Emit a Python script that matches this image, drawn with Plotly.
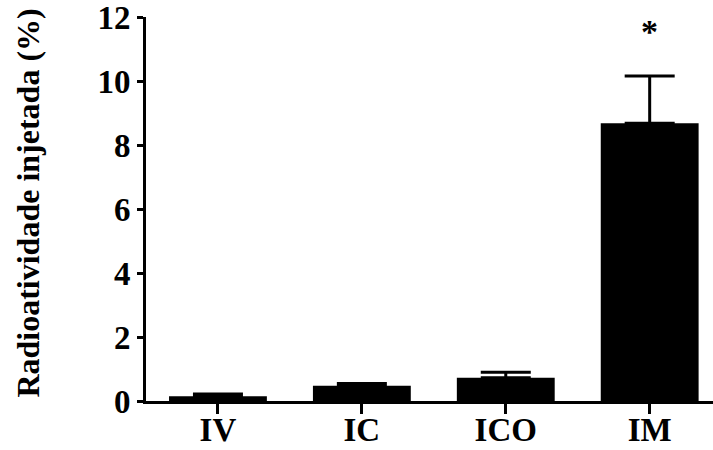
import plotly.graph_objects as go

categories = ["IV", "IC", "ICO", "IM"]
values = [0.15, 0.48, 0.73, 8.68]
errors = [0.07, 0.07, 0.17, 1.48]
y_ticks = [0, 2, 4, 6, 8, 10, 12]

FONT = "Liberation Serif"

fig = go.Figure()
fig.add_trace(go.Bar(
    x=list(range(len(categories))),
    y=values,
    width=0.68,
    marker=dict(color="black", line=dict(color="black", width=0)),
    error_y=dict(type="data", array=errors, arrayminus=[0]*len(errors), symmetric=False,
                 color="black", thickness=3, width=25),
))

fig.add_annotation(x=3, y=11.55, xref="x", yref="y", text="<b>*</b>", showarrow=False,
                   font=dict(family=FONT, size=34, color="black"), yanchor="middle")

fig.add_annotation(x=(28 - 146) / 567, y=0.514, xref="paper", yref="paper",
                   text="<b>Radioatividade injetada (%)</b>", textangle=-90, showarrow=False,
                   font=dict(family=FONT, size=32, color="black"),
                   xanchor="center", yanchor="middle")

fig.update_layout(
    width=713, height=450,
    margin=dict(l=146, r=0, t=17, b=49, pad=0, autoexpand=False),
    plot_bgcolor="white", paper_bgcolor="white",
    showlegend=False,
    font=dict(family=FONT, color="black"),
)
fig.update_xaxes(
    range=[-0.5, 3.44], automargin=False, ticklabeloverflow="allow",
    ticklabelstandoff=-13,
    tickvals=list(range(len(categories))), ticktext=["<b>%s</b>" % c for c in categories],
    tickfont=dict(family=FONT, size=33, color="black"),
    showline=True, linecolor="black", linewidth=3,
    ticks="outside", ticklen=10, tickwidth=3, tickcolor="black",
    showgrid=False, zeroline=False,
)
fig.update_yaxes(
    range=[0, 12], automargin=False, ticklabeloverflow="allow",
    tickvals=y_ticks, ticktext=["<b>%d</b>" % t for t in y_ticks],
    tickfont=dict(family=FONT, size=33, color="black"),
    showline=True, linecolor="black", linewidth=3,
    ticks="outside", ticklen=6, tickwidth=3, tickcolor="black",
    showgrid=False, zeroline=False,
)

fig.write_html("out.html", config={"displayModeBar": False},
               post_script="document.body.style.margin='0';")
